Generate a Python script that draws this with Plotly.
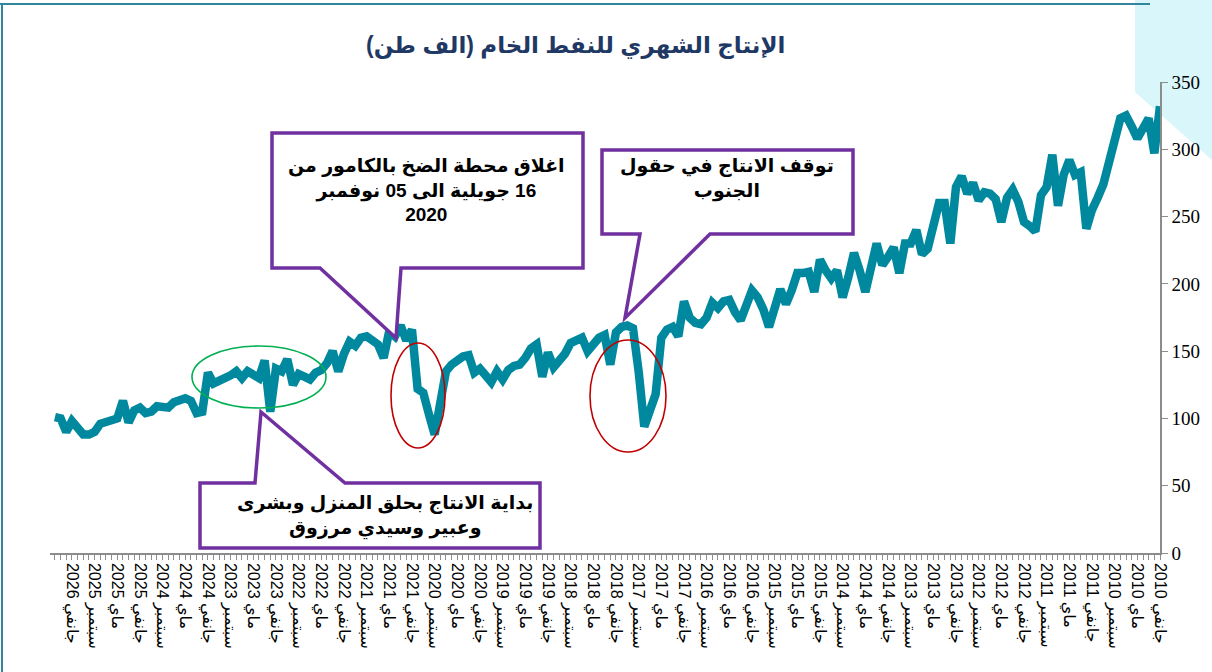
import plotly.graph_objects as go

# Monthly crude oil production (thousand tonnes), Jan 2010 -> Apr 2026
production = [
    332, 297, 323, 314, 308, 317, 325, 323, 306, 288,
    274, 264, 255, 241, 283, 281, 292, 281, 258, 296,
    272, 266, 239, 243, 246, 261, 270, 264, 246, 263,
    267, 268, 262, 275, 267, 280, 272, 230, 260, 260,
    245, 226, 222, 240, 230, 230, 208, 227, 220, 214,
    230, 212, 194, 210, 223, 205, 190, 210, 204, 210,
    218, 194, 209, 208, 208, 195, 185, 196, 180, 168,
    181, 190, 195, 182, 173, 179, 188, 187, 182, 186,
    175, 170, 171, 175, 187, 161, 168, 166, 160, 118,
    105, 94, 135, 167, 169, 168, 164, 140, 162, 160,
    155, 150, 160, 158, 156, 148, 143, 138, 149, 131,
    155, 152, 145, 140, 139, 136, 129, 135, 127, 133,
    137, 134, 147, 146, 143, 140, 135, 112, 88, 103,
    119, 122, 166, 158, 169, 161, 165, 145, 155, 158,
    161, 160, 154, 157, 148, 135, 150, 141, 136, 134,
    129, 131, 133, 125, 144, 135, 137, 105, 143, 130,
    133, 135, 130, 135, 132, 130, 127, 126, 134, 105,
    104, 113, 115, 114, 112, 108, 109, 109, 105, 104,
    108, 106, 97, 113, 100, 99, 98, 96, 90, 88,
    88, 94, 98, 90, 100, 101,
]

tick_labels = [
    "2010 جانفي", "2010 ماي", "2010 سبتمبر",
    "2011 جانفي", "2011 ماي", "2011 سبتمبر",
    "2012 جانفي", "2012 ماي", "2012 سبتمبر",
    "2013 جانفي", "2013 ماي", "2013 سبتمبر",
    "2014 جانفي", "2014 ماي", "2014 سبتمبر",
    "2015 جانفي", "2015 ماي", "2015 سبتمبر",
    "2016 جانفي", "2016 ماي", "2016 سبتمبر",
    "2017 جانفي", "2017 ماي", "2017 سبتمبر",
    "2018 جانفي", "2018 ماي", "2018 سبتمبر",
    "2019 جانفي", "2019 ماي", "2019 سبتمبر",
    "2020 جانفي", "2020 ماي", "2020 سبتمبر",
    "2021 جانفي", "2021 ماي", "2021 سبتمبر",
    "2022 جانفي", "2022 ماي", "2022 سبتمبر",
    "2023 جانفي", "2023 ماي", "2023 سبتمبر",
    "2024 جانفي", "2024 ماي", "2024 سبتمبر",
    "2025 جانفي", "2025 ماي", "2025 سبتمبر",
    "2026 جانفي",
]
tick_step = 4

title_text = "الإنتاج الشهري للنفط الخام (الف طن)"
note_kamour = ["اغلاق محطة الضخ بالكامور من", "16 جويلية الى 05 نوفمبر", "2020"]
note_south = ["توقف الانتاج في حقول", "الجنوب"]
note_start = ["بداية الانتاج بحلق المنزل وبشرى", "وعبير وسيدي مرزوق"]

RLE, PDF = "\u202B", "\u202C"

def rtl(lines):
    return "<br>".join(RLE + "<b>" + s + "</b>" + PDF for s in lines)

W, H = 1212, 672
L, R, T, B = 50, 52, 82, 119
PW, PH = W - L - R, H - T - B
PX_PER_MONTH = 5.667

def px(x):
    return (x - L) / PW

def py(y):
    return (H - B - y) / PH

x_idx = list(range(len(production)))
tickvals = [i * tick_step for i in range(len(tick_labels))]

LINE = "#00899E"
PURPLE = "#7030A0"

fig = go.Figure()
fig.add_trace(go.Scatter(
    x=x_idx, y=production, mode="lines",
    line=dict(color=LINE, width=8.5, shape="linear"),
    hoverinfo="y", showlegend=False,
))

shapes = []
# background decoration (top-right light cyan) and frame lines
shapes.append(dict(type="path", xref="paper", yref="paper", layer="below",
                   path=f"M {px(1135)},{py(0)} L {px(1212)},{py(0)} L {px(1212)},{py(160)} L {px(1135)},{py(92)} Z",
                   fillcolor="#D9F6FB", line=dict(width=0)))
shapes.append(dict(type="line", xref="paper", yref="paper", layer="below",
                   x0=px(0), x1=px(1150), y0=py(4), y1=py(4),
                   line=dict(color="#31859C", width=2)))
shapes.append(dict(type="line", xref="paper", yref="paper", layer="below",
                   x0=px(2), x1=px(2), y0=py(4), y1=py(672),
                   line=dict(color="#31859C", width=2)))

def callout(x0, y0, x1, y1, b0, b1, tip, side="bottom"):
    tx, ty = tip
    if side == "bottom":
        pts = [(x0, y0), (x1, y0), (x1, y1), (b1, y1), (tx, ty), (b0, y1), (x0, y1)]
    else:
        pts = [(x0, y1), (x1, y1), (x1, y0), (b1, y0), (tx, ty), (b0, y0), (x0, y0)]
    path = "M " + " L ".join(f"{px(a)},{py(b)}" for a, b in pts) + " Z"
    return dict(type="path", xref="paper", yref="paper", layer="above", path=path,
                fillcolor="white", line=dict(color=PURPLE, width=3.5))

shapes.append(callout(272, 133, 583, 268, 320, 401, (396, 338)))
shapes.append(callout(602, 150, 853, 234, 640, 710, (625, 318)))
shapes.append(callout(200, 483, 540, 548, 255, 345, (261, 412), side="top"))

# ellipses
shapes.append(dict(type="circle", xref="paper", yref="paper", layer="above",
                   x0=px(192), x1=px(326), y0=py(408), y1=py(346),
                   line=dict(color="#00B050", width=1.6)))
shapes.append(dict(type="circle", xref="paper", yref="paper", layer="above",
                   x0=px(391), x1=px(445), y0=py(448), y1=py(343),
                   line=dict(color="#C00000", width=1.6)))
shapes.append(dict(type="circle", xref="paper", yref="paper", layer="above",
                   x0=px(590), x1=px(666), y0=py(452), y1=py(340),
                   line=dict(color="#C00000", width=1.6)))

ann_font = dict(family="Arial, DejaVu Sans", size=19, color="black")
annotations = [
    dict(xref="paper", yref="paper", x=px(575), y=py(45), text=RLE + "<b>" + title_text + "</b>" + PDF,
         showarrow=False, font=dict(family="Arial, DejaVu Sans", size=23, color="#1F3864"),
         xanchor="center", yanchor="middle"),
    dict(xref="paper", yref="paper", x=px(427), y=py(190), text=rtl(note_kamour),
         showarrow=False, font=ann_font, xanchor="center", yanchor="middle", align="center"),
    dict(xref="paper", yref="paper", x=px(727), y=py(179), text=rtl(note_south),
         showarrow=False, font=ann_font, xanchor="center", yanchor="middle", align="center"),
    dict(xref="paper", yref="paper", x=px(385), y=py(516), text=rtl(note_start),
         showarrow=False, font=ann_font, xanchor="center", yanchor="middle", align="center"),
]

fig.update_layout(
    width=W, height=H,
    margin=dict(l=L, r=R, t=T, b=B, pad=0),
    paper_bgcolor="white", plot_bgcolor="white",
    shapes=shapes, annotations=annotations,
    xaxis=dict(
        range=[PW / PX_PER_MONTH, 0],
        tickmode="array", tickvals=tickvals, ticktext=tick_labels,
        tickangle=90, tickfont=dict(family="Arial, DejaVu Sans", size=16, color="black"),
        showgrid=False, zeroline=False,
        showline=True, linecolor="#8C8C8C", linewidth=1.5,
        ticks="outside", ticklen=5, tickcolor="#8C8C8C",
        minor=dict(dtick=1, tick0=0, ticks="outside", ticklen=5, tickcolor="#8C8C8C", showgrid=False),
    ),
    yaxis=dict(
        range=[0, 350], dtick=50, side="right",
        tickfont=dict(family="Liberation Serif, DejaVu Serif", size=19, color="black"),
        showgrid=False, zeroline=False,
        showline=True, linecolor="#8C8C8C", linewidth=1.5,
        ticks="outside", ticklen=6, tickcolor="#8C8C8C",
    ),
)

fig.write_html("out.html", config={"displayModeBar": False},
               post_script="document.body.style.margin='0';")
